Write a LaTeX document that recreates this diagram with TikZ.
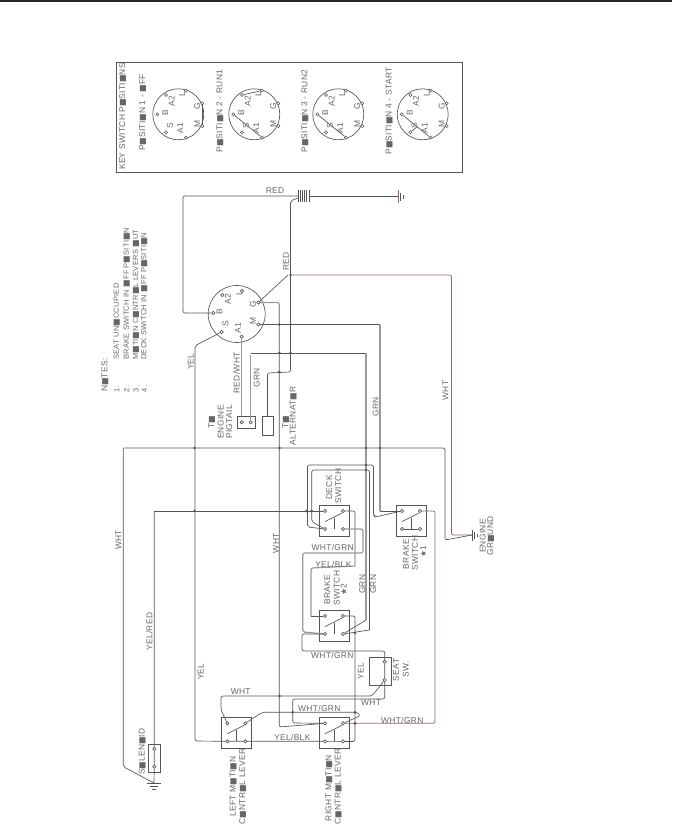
\documentclass[tikz,border=0pt]{standalone}
\usepackage{fontspec}
\setmainfont{Liberation Sans}[LetterSpace=4]
\newfontfamily\symfont{DejaVu Sans}
\newcommand{\bx}{{\symfont\fontsize{6}{7}\selectfont\char"25A0}}
\newcommand{\st}{{\symfont\fontsize{6}{7}\selectfont\char"2605}}
\definecolor{wirecol}{HTML}{555555}
\definecolor{thickcol}{HTML}{9A9A9A}
\definecolor{redcol}{HTML}{8E6A6A}
\definecolor{textcol}{HTML}{666666}
\tikzset{
  wire/.style={draw=wirecol,line width=0.5pt,rounded corners=1.5pt},
  greywire/.style={draw=thickcol,line width=0.9pt,rounded corners=1.5pt},
  redwire/.style={draw=redcol,line width=0.6pt,rounded corners=1.5pt},
  term/.style={circle,draw=wirecol,fill=white,line width=0.4pt,inner sep=0pt,minimum size=2.4pt},
  dot/.style={circle,fill=wirecol,inner sep=0pt,minimum size=2.2pt},
  part/.style={draw=wirecol,line width=0.5pt},
  lbl/.style={text=textcol,font=\fontsize{6.3}{7.5}\selectfont,inner sep=0pt},
  vlbl/.style={lbl,rotate=90},
  notelbl/.style={vlbl,font=\fontsize{5.6}{7}\selectfont},
  keydial/.pic={
    \draw[part] (0,0) circle (25.5);
    \node[term] (-l) at (7.7,-23.7) {};
    \node[term] (-g) at (24,-11) {};
    \node[term] (-m) at (24,11.7) {};
    \node[term] (-a1) at (7.7,23.3) {};
    \node[term] (-s) at (-12.3,18) {};
    \node[term] (-b) at (-21,0) {};
    \node[term] (-a2) at (-12.3,-19.3) {};
    \node[vlbl] (-tl) at (4,-20) {L};
    \node[vlbl] (-tg) at (19,-7.7) {G};
    \node[vlbl] (-tm) at (19,10) {M};
    \node[vlbl] (-ta1) at (2,14) {A1};
    \node[vlbl] (-ts) at (-8.3,11.7) {S};
    \node[vlbl] (-tb) at (-13,-1.7) {B};
    \node[vlbl] (-ta2) at (-6.7,-12.7) {A2};
  },
  switchbox/.pic={
    \draw[part] (-6,-6) rectangle (24,25);
    \node[term] (-ul) at (0,0) {};
    \node[term] (-ur) at (18,0) {};
    \node[term] (-ll) at (0,18) {};
    \node[term] (-lr) at (18,18) {};
    \draw[part] (0,10.5) -- (17,2);
    \draw[part] (9,6.5) -- (9,18);
  }
}

\begin{document}
\begin{tikzpicture}[x=0.75pt,y=-0.75pt]
\useasboundingbox (0,0) rectangle (672,824);
\fill[black!85] (0,0) rectangle (672,1.6);

% Key switch panel
\draw[part] (116,62.3) rectangle (462.3,172.3);
\node[vlbl] (keytitle) at (122.7,116.5) {KEY SWITCH P\bx SITI\bx NS};
\node[vlbl] (pos1) at (142.7,112.5) {P\bx SITI\bx N 1 - \bx FF};
\node[vlbl] (pos2) at (220,111) {P\bx SITI\bx N 2 - RUN1};
\node[vlbl] (pos3) at (305,111) {P\bx SITI\bx N 3 - RUN2};
\node[vlbl] (pos4) at (389.3,111) {P\bx SITI\bx N 4 - START};
\pic (da) at (178.3,114.3) {keydial};
\pic (db) at (254.3,114.3) {keydial};
\pic (dc) at (338.3,114.3) {keydial};
\pic (dd) at (422.7,114.3) {keydial};
\draw[part] (da-g) -- (da-m);
\draw[part] (db-a2) -- (db-l);
\draw[part] (db-b) -- (db-a1);
\draw[part] (dc-b) -- (dc-a1);
\draw[part] (dd-b) -- (dd-a1);
\draw[part] (dd-s) -- ++(6,-5);

% Notes
\node[vlbl,anchor=west] (noteh) at (105,392) {N\bx TES:};
\node[notelbl] (n1) at (116.7,389) {1.};
\node[notelbl] (n2) at (126.7,389) {2.};
\node[notelbl] (n3) at (136,389) {3.};
\node[notelbl] (n4) at (144.3,389) {4.};
\node[notelbl,anchor=west] (note1) at (116.7,360) {SEAT UN\bx CCUPIED};
\node[notelbl,anchor=west] (note2) at (126.7,360) {BRAKE SWITCH IN \bx FF P\bx SITI\bx N};
\node[notelbl,anchor=west] (note3) at (136,360) {M\bx TI\bx N C\bx NTR\bx L LEVERS \bx UT};
\node[notelbl,anchor=west] (note4) at (144.3,360) {DECK SWITCH IN \bx FF P\bx SITI\bx N};

% Main switch
\draw[part] (236.7,314) circle (28.5);
\node[term] (b) at (213.3,313) {};
\node[term] (s) at (221.7,332) {};
\node[term] (a1) at (241.7,336.7) {};
\node[term] (m) at (258.3,324.5) {};
\node[term] (g) at (258.3,302.5) {};
\node[term] (l) at (242,291) {};
\node[term] (a2) at (222.3,295) {};
\node[vlbl] (tb) at (219.5,312) {B};
\node[vlbl] (ts) at (225.5,324) {S};
\node[vlbl] (ta1) at (238,328) {A1};
\node[vlbl] (tm) at (253,321) {M};
\node[vlbl] (tg) at (253,304) {G};
\node[vlbl] (tl) at (239.5,293) {L};
\node[vlbl] (ta2) at (228,299) {A2};

% Battery and grounds
\foreach \barx in {298,300.2,302.4,304.6,306.8,309}
  \draw[part] (\barx,190) -- (\barx,202);
\coordinate (batl) at (298,196);
\coordinate (batr) at (309,196);
\coordinate (batm) at (298,198);
\coordinate (gnda) at (398,196);
\draw[redwire] (398,190) -- (398,203);
\draw[part] (400.5,192.5) -- (400.5,200.5) (403,194.5) -- (403,198.5);
\coordinate (gndb) at (472,535);
\draw[part] (472,529.5) -- (472,541) (474.5,532) -- (474.5,538.5) (477,534) -- (477,536.5);
\coordinate (gndc) at (154,783);
\draw[part] (147,783) -- (161,783) (150,786) -- (158,786) (152,789) -- (156,789);

% Connectors on the engine side
\node[part,minimum width=13.8pt,minimum height=9.2pt,inner sep=0pt] (pig) at (246.5,422.2) {};
\node[term] (piga) at (241.7,422.3) {};
\node[term] (pigb) at (250.7,422.3) {};
\draw[part] (262.3,416) rectangle (273,435);
\coordinate (alt) at (267.5,416);

% Switches
\pic (deck) at (325,511) {switchbox};
\pic (brkone) at (402,511) {switchbox};
\pic (brktwo) at (325,616) {switchbox};
\pic (lever) at (227.3,723.3) {switchbox};
\pic (rlever) at (325,723.3) {switchbox};
\draw[part] (brkone-ll) -- (brkone-lr);
\draw[part] (369,657) rectangle (391.7,685);
\node[term] (seata) at (384.7,661.7) {};
\node[term] (seatb) at (384.7,680) {};
\draw[part] (148.3,744.3) rectangle (160.3,772);
\node[term] (sola) at (154.3,749) {};
\node[term] (solb) at (154.3,766.7) {};

% Wires
\draw[wire] (batl) -- (183,196) -- (183,313) -- (b);
\draw[wire] (batr) -- (gnda);
\draw[wire] (batm) -- (290.5,201) -- (290.5,372) -- (267.5,373) -- (alt);
\draw[redwire] (290.5,275) -- (451.5,275) -- (451.5,535) -- (gndb);
\draw[wire] (g) -- (288,275);
\draw[wire] (s) -- (195,345.7) -- (195,741) -- (lever-ll);
\draw[wire] (lever-ll) -- (rlever-ll) -- (355,741.5) -- (355,616) -- (brktwo-ur);
\draw[greywire] (g) -- (279.3,302.5) -- (279.3,324.5);
\draw[wire] (279.3,324.5) -- (279.3,727) -- (rlever-ul);
\draw[greywire] (a1) -- (pig.north -| a1);
\draw[greywire] (pigb) -- (250.7,355);
\draw[wire] (250.7,353) -- (366,353);
\draw[greywire] (366,353) -- (366,620);
\draw[wire] (366,620) -- (brktwo-lr);
\draw[wire] (m) -- (380,324.5);
\draw[greywire] (380,324.5) -- (380,511);
\draw[wire] (380,511) -- (brkone-ul);
\draw[redwire] (brkone-ur) -- (435,511) -- (435,723.3) -- (rlever-ur);
\draw[wire] (123.3,448) -- (445,448) -- (445,540) -- (gndb);
\draw[wire] (123.3,448) -- (123.3,766.7) -- (gndc);
\draw[wire] (154.3,511) -- (sola) -- (solb) -- (gndc);
\draw[wire] (154.3,511) -- (deck-ul);
\draw[wire] (brkone-ul) -- (375,517) -- (373.5,515) -- (373.5,465) -- (307.5,465) -- (307.5,527) -- (deck-ll);
\draw[wire] (369.5,630) -- (369.5,470) -- (311.7,470) -- (311.7,521.7) -- (deck-ll);
\draw[wire] (369.5,630) -- (brktwo-lr);
\draw[wire] (deck-ur) -- (355,511) -- (355,566);
\draw[greywire] (355,566) -- (311,568) -- (311,616);
\draw[wire] (311,616) -- (brktwo-ul);
\draw[greywire] (deck-lr) -- (363,529) -- (363,553) -- (302.7,553) -- (302.7,632) -- (brktwo-ll);
\draw[wire] (brktwo-ll) -- (302,634) -- (302,651) -- (384.7,651) -- (seata) -- (seatb) -- (384.7,699) -- (292.7,699) -- (292.7,723) -- (rlever-ul);
\draw[wire] (seatb) -- (372,696) -- (221,696) -- (221,710) -- (lever-ul);
\draw[wire] (lever-ur) -- (262.3,712.3) -- (358,712.3) -- (360,716) -- (rlever-ur);

% Junction dots
\foreach \jx/\jy in {290.5/275,279.3/324.5,290.5/324.5,279.3/353,290.5/353,279.3/372,194.5/448,279.3/448,366/448,380/448,194.5/511,306.7/511,311.7/511,366/465,366/470,355/633,355/723.3,355/712.3,292.7/712.3,279.3/696}
  \node[dot] at (\jx,\jy) {};
\foreach \nm in {piga,pigb,deck-ul,deck-ur,deck-ll,deck-lr,brkone-ul,brkone-ur,brkone-ll,brkone-lr,brktwo-ul,brktwo-ur,brktwo-ll,brktwo-lr,lever-ul,lever-ur,lever-ll,lever-lr,rlever-ul,rlever-ur,rlever-ll,rlever-lr,seata,seatb,sola,solb,b,s,a1,m,g,l,a2}
  \node[term] at (\nm) {};

% Wire labels
\node[lbl] (r1) at (275,191) {RED};
\node[vlbl] (r2) at (286,261.7) {RED};
\node[vlbl] (y1) at (190.7,361.7) {YEL};
\node[vlbl] (rw) at (236.7,373) {RED/WHT};
\node[vlbl] (g1) at (256.7,377.7) {GRN};
\node[vlbl] (g2) at (375.7,406.7) {GRN};
\node[vlbl] (w1) at (445.5,390.7) {WHT};
\node[vlbl] (w2) at (276,543.3) {WHT};
\node[vlbl] (w3) at (118.5,540) {WHT};
\node[lbl] (wg1) at (332.7,547.3) {WHT/GRN};
\node[lbl] (yb1) at (333.3,564) {YEL/BLK};
\node[vlbl] (g3) at (362.3,584.3) {GRN};
\node[vlbl] (g4) at (373.3,584.3) {GRN};
\node[vlbl] (y2) at (200.7,671.7) {YEL};
\node[vlbl] (yr) at (149.3,631.7) {YEL/RED};
\node[lbl] (w4) at (240.7,691.3) {WHT};
\node[lbl] (wg2) at (319.3,708.3) {WHT/GRN};
\node[lbl] (wg3) at (332.3,655) {WHT/GRN};
\node[vlbl] (y3) at (360.7,671) {YEL};
\node[lbl] (w5) at (371,702.7) {WHT};
\node[lbl] (wg4) at (402.3,720) {WHT/GRN};
\node[lbl] (yb2) at (292.3,737.7) {YEL/BLK};

% Part labels
\node[vlbl] (t1) at (211.7,422) {T\bx};
\node[vlbl] (engine) at (220.7,422) {ENGINE};
\node[vlbl] (pigtail) at (229.3,422) {PIGTAIL};
\node[vlbl] (t2) at (285.7,422) {T\bx};
\node[vlbl] (altern) at (293.3,416) {ALTERNAT\bx R};
\node[vlbl] (deck1) at (329.3,487.5) {DECK};
\node[vlbl] (deck2) at (338.3,486) {SWITCH};
\node[vlbl] (bb1) at (327.3,590) {BRAKE};
\node[vlbl] (bb2) at (336.7,588) {SWITCH};
\node[vlbl] (bb3) at (343.8,590) {\st 2};
\node[vlbl] (ba1) at (406,554.3) {BRAKE};
\node[vlbl] (ba2) at (415,553) {SWITCH};
\node[vlbl] (ba3) at (423.3,551.7) {\st 1};
\node[vlbl] (eg1) at (482.7,536) {ENGINE};
\node[vlbl] (eg2) at (490.7,536) {GR\bx UND};
\node[vlbl] (seat1) at (396,670) {SEAT};
\node[vlbl] (seat2) at (405.7,669) {SW.};
\node[vlbl] (solen) at (142.3,751.7) {S\bx LEN\bx ID};
\node[vlbl] (lm1) at (233.3,786.5) {LEFT M\bx TI\bx N};
\node[vlbl] (lm2) at (242.7,786.5) {C\bx NTR\bx L LEVER};
\node[vlbl] (rm1) at (329,788) {RIGHT M\bx TI\bx N};
\node[vlbl] (rm2) at (338.3,786.5) {C\bx NTR\bx L LEVER};
\end{tikzpicture}
\end{document}
